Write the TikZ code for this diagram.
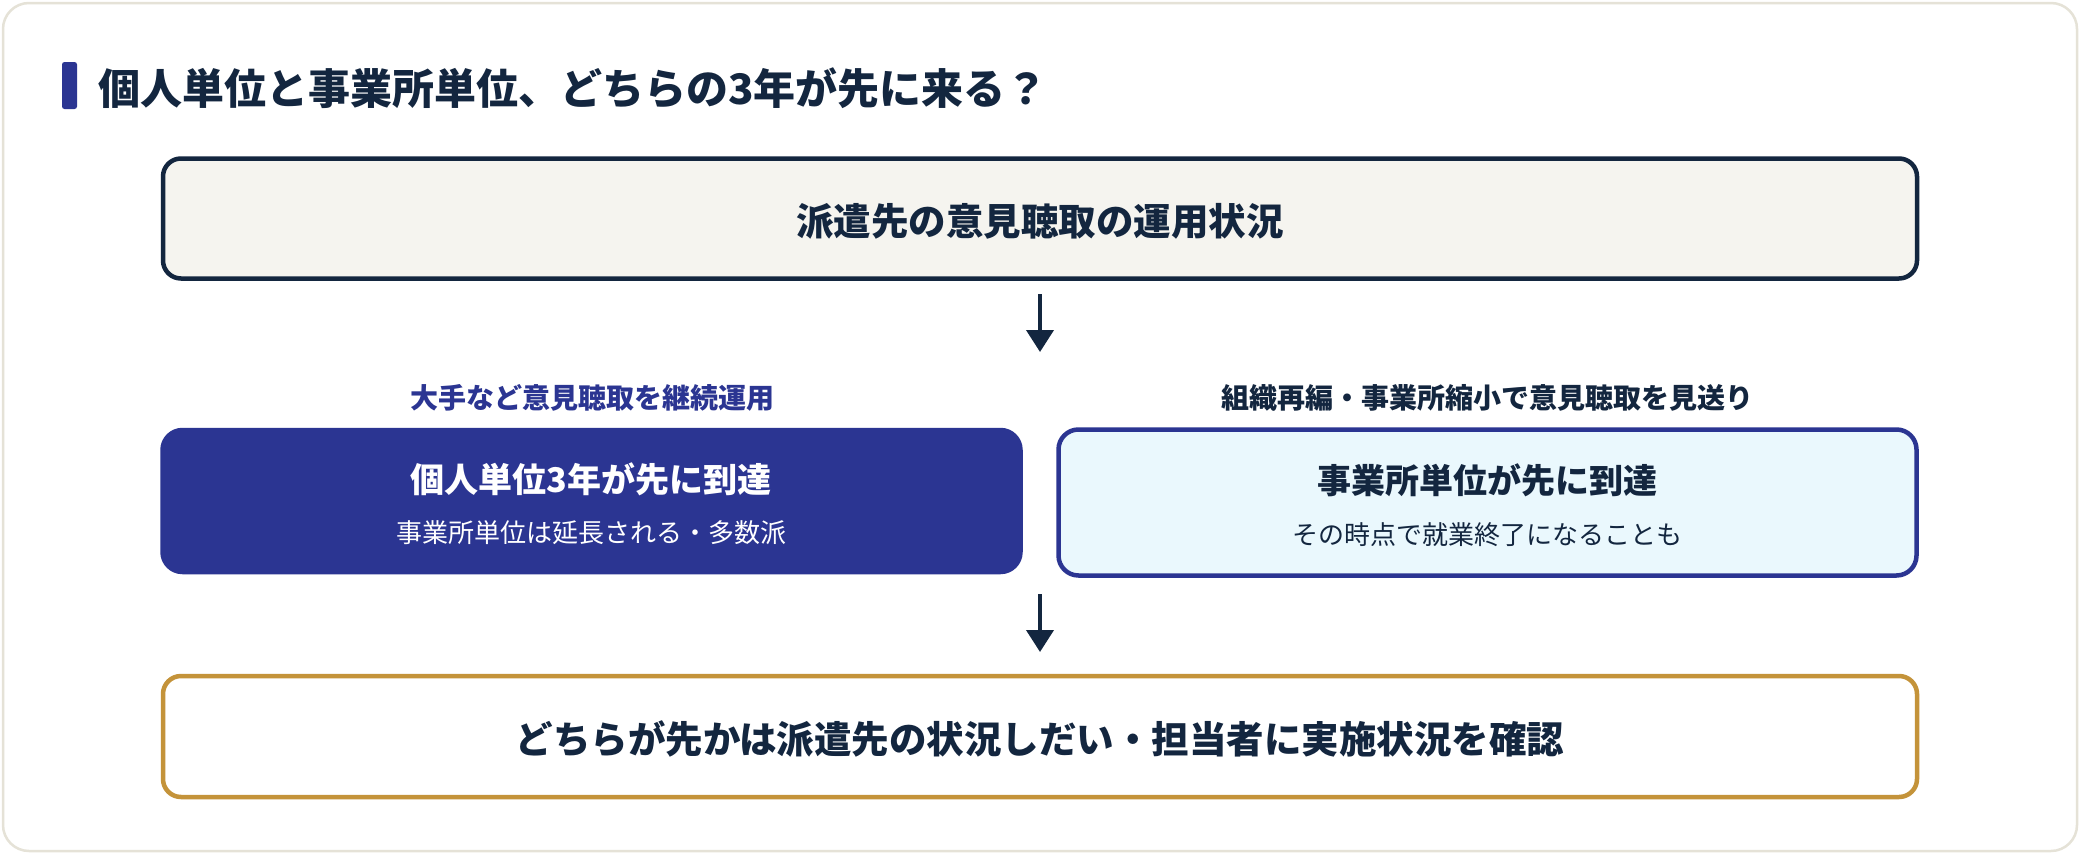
\documentclass[tikz,border=0pt]{standalone}
\usepackage{fontspec}
\setmainfont{Noto Sans CJK JP}
\usetikzlibrary{arrows.meta}
\definecolor{navy}{HTML}{13263F}
\definecolor{indigo}{HTML}{2B3592}
\definecolor{gold}{HTML}{C4933A}
\definecolor{lcyan}{HTML}{EAF8FD}
\definecolor{beige}{HTML}{F5F4EF}
\definecolor{frame}{HTML}{E5E2D7}
\tikzset{
  box/.style={rounded corners=18pt, line width=4.5pt, inner sep=0pt},
  bigtxt/.style={font=\fontsize{37.5}{44}\selectfont\bfseries, text=navy, inner sep=0pt},
  hdtxt/.style={font=\fontsize{34}{40}\selectfont\bfseries, inner sep=0pt},
  subtxt/.style={font=\fontsize{26}{32}\selectfont, inner sep=0pt},
  lbltxt/.style={font=\fontsize{28}{34}\selectfont\bfseries, inner sep=0pt},
  flow/.style={draw=navy, line width=4pt, -{Triangle[length=22pt,width=27pt]}},
}
\begin{document}
\begin{tikzpicture}[x=1pt,y=-1pt]
\useasboundingbox (0,0) rectangle (2080,854);
\draw[frame, line width=2.5pt, fill=white, rounded corners=26pt] (3,3) rectangle (2077,851);
% title
\fill[indigo, rounded corners=2.5pt] (62,62) rectangle (77,109);
\node[anchor=west, font=\fontsize{42}{50}\selectfont\bfseries, text=navy, inner sep=0pt] (title) at (98,88) {個人単位と事業所単位、どちらの3年が先に来る？};
% top box
\node[box, draw=navy, fill=beige, minimum width=1754pt, minimum height=120pt] (top) at (1040,218.5) {};
\node[bigtxt] (toptxt) at (1040,221) {派遣先の意見聴取の運用状況};
\coordinate (a1s) at (1040,294);
\coordinate (a1e) at (1040,352);
\draw[flow] (a1s) -- (a1e);
% labels
\node[lbltxt, text=indigo] (lblL) at (592,398) {大手など意見聴取を継続運用};
\node[lbltxt, text=navy] (lblR) at (1487,398) {組織再編・事業所縮小で意見聴取を見送り};
% left box
\node[box, draw=indigo, fill=indigo, rounded corners=20pt, minimum width=858pt, minimum height=142pt] (left) at (591.5,501) {};
\node[hdtxt, text=white] (leftT) at (591,479) {個人単位3年が先に到達};
\node[subtxt, text=white] (leftS) at (591,533) {事業所単位は延長される・多数派};
% right box
\node[box, draw=indigo, fill=lcyan, rounded corners=20pt, minimum width=858pt, minimum height=146pt] (right) at (1487.5,502.5) {};
\node[hdtxt, text=navy] (rightT) at (1487,480) {事業所単位が先に到達};
\node[subtxt, text=navy] (rightS) at (1487,535) {その時点で就業終了になることも};
% arrow 2
\coordinate (a2s) at (1040,594);
\coordinate (a2e) at (1040,652);
\draw[flow] (a2s) -- (a2e);
% bottom box
\node[box, draw=gold, fill=white, minimum width=1754pt, minimum height=121pt] (bot) at (1040,736.5) {};
\node[bigtxt] (bottxt) at (1040,739) {どちらが先かは派遣先の状況しだい・担当者に実施状況を確認};
\end{tikzpicture}
\end{document}
